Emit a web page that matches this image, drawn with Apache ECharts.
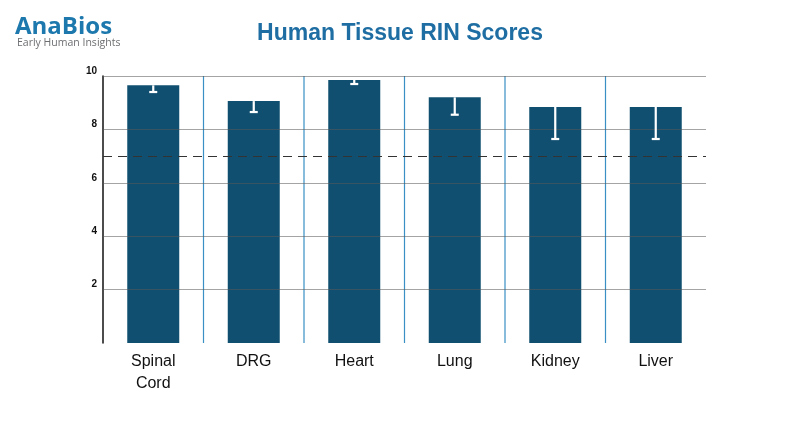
<!DOCTYPE html>
<html><head><meta charset="utf-8">
<script src="https://cdn.jsdelivr.net/npm/echarts@6/dist/echarts.min.js"></script>
<style>html,body{margin:0;padding:0;background:#fff}#c{width:800px;height:432px}</style>
</head><body><div id="c"></div>
<script>
const categories = ['Spinal\nCord','DRG','Heart','Lung','Kidney','Liver'];
const rinMean = [9.65, 9.06, 9.85, 9.2, 8.84, 8.84];
const rinLow = [9.4, 8.65, 9.7, 8.55, 7.64, 7.64];
const threshold = 7;
const yTicks = [2,4,6,8,10];

const chart = echarts.init(document.getElementById('c'));
chart.setOption({
  animation:false,
  title:[
    {text:'Human Tissue RIN Scores',left:'center',top:17,textStyle:{color:'#1f6ea3',fontSize:23,fontWeight:'bold',fontFamily:'Liberation Sans'}},
    {text:'AnaBios',left:10,top:10,textStyle:{color:'#1c78ad',fontSize:24,fontWeight:'bold',fontFamily:'Open Sans'}},
    {text:'Early Human Insights',left:12,top:33,textStyle:{color:'#6d6e71',fontSize:10.5,fontWeight:'normal',fontFamily:'Open Sans'}}
  ],
  grid:{left:103,right:94,top:76,bottom:89},
  xAxis:{type:'category',data:categories,
    axisLine:{show:false},axisTick:{show:false},
    axisLabel:{color:'#111',fontSize:16,fontFamily:'Liberation Sans',margin:8,lineHeight:22},
    splitLine:{show:false}},
  yAxis:{type:'value',min:0,max:10,interval:2,
    axisLine:{show:true,lineStyle:{color:'#111',width:1.5}},axisTick:{show:false},
    axisLabel:{color:'#111',fontSize:10,fontWeight:'bold',fontFamily:'Liberation Sans',margin:6,verticalAlign:'bottom',formatter:v=>v===0?'':v},
    splitLine:{show:false}},
  series:[
    {type:'custom',z:1,data:categories.slice(1).map((c,i)=>[i+1]),
     renderItem:(p,api)=>{
       const i=api.value(0);
       const a=api.coord([i-1,0]), b=api.coord([i,10]);
       const x=(a[0]+b[0])/2;
       return {type:'line',shape:{x1:x,y1:a[1],x2:x,y2:b[1]},style:{stroke:'#3a8fc4',lineWidth:1.2}};
     }},
    {type:'bar',data:rinMean,barWidth:52,itemStyle:{color:'#114f70'},z:2,
     markLine:{silent:true,symbol:'none',label:{show:false},z:5,
       data:[
         ...yTicks.map(t=>({yAxis:t,lineStyle:{color:'rgba(90,90,90,0.55)',type:'solid',width:1.2}})),
         {yAxis:threshold,lineStyle:{color:'#333',type:[9,6],width:1.2}}
       ]}},
    {type:'custom',z:6,data:rinMean.map((m,i)=>[i,m,rinLow[i]]),
     renderItem:(p,api)=>{
       const top=api.coord([api.value(0),api.value(1)]);
       const low=api.coord([api.value(0),api.value(2)]);
       const s={stroke:'#fff',lineWidth:2.2};
       return {type:'group',children:[
         {type:'line',shape:{x1:top[0],y1:top[1],x2:low[0],y2:low[1]},style:s},
         {type:'line',shape:{x1:low[0]-4,y1:low[1],x2:low[0]+4,y2:low[1]},style:s}
       ]};
     }}
  ]
});
</script></body></html>
